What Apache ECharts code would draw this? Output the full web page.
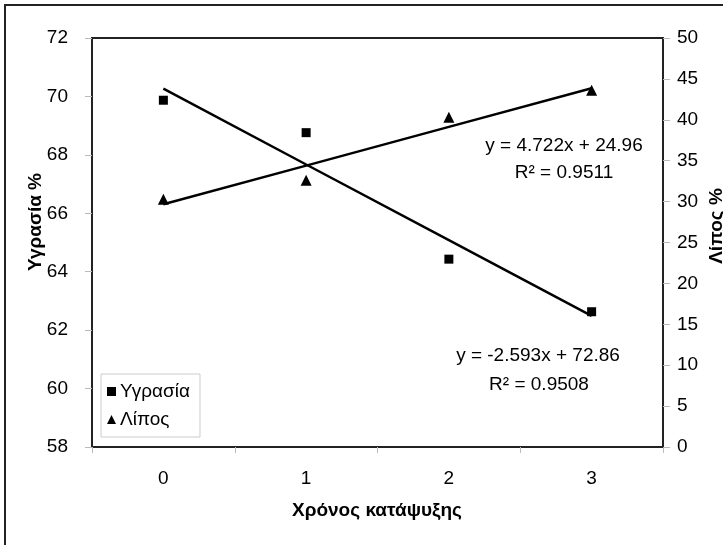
<!DOCTYPE html>
<html>
<head>
<meta charset="utf-8">
<script src="https://cdn.jsdelivr.net/npm/echarts@6/dist/echarts.min.js"></script>
<style>
html,body{margin:0;padding:0;background:#fff;}
#c{width:723px;height:545px;}
</style>
</head>
<body>
<div id="c"></div>
<script>
const categories = ['0', '1', '2', '3'];
const moisture = [69.87, 68.76, 64.43, 62.63];
const fat = [30.3, 32.6, 40.3, 43.6];
const moistureTrend = [70.27, 67.67, 65.08, 62.49];
const fatTrend = [29.68, 34.40, 39.13, 43.85];
const moistureEq = 'y = -2.593x + 72.86';
const moistureR2 = 'R² = 0.9508';
const fatEq = 'y = 4.722x + 24.96';
const fatR2 = 'R² = 0.9511';

const FONT = '"Liberation Sans", Arial, sans-serif';
const FS = 19;
const chart = echarts.init(document.getElementById('c'), null, {renderer: 'canvas'});
const txt = (x, y, text, opts) => Object.assign({
  type: 'text', x: x, y: y,
  style: Object.assign({text: text, fontFamily: FONT, fontSize: FS, fill: '#000', align: 'center', verticalAlign: 'middle'}, opts || {})
});
chart.setOption({
  animation: false,
  backgroundColor: '#fff',
  grid: {left: 92, top: 38, right: 60, bottom: 98, show: true, borderColor: '#222', borderWidth: 2, backgroundColor: 'transparent'},
  xAxis: {
    type: 'category', data: categories, boundaryGap: true,
    axisLine: {lineStyle: {color: '#222', width: 2}},
    axisTick: {show: true, length: 6, interval: 0, lineStyle: {color: '#bbb'}},
    axisLabel: {color: '#000', fontFamily: FONT, fontSize: FS, margin: 22},
    splitLine: {show: false}
  },
  yAxis: [
    {type: 'value', min: 58, max: 72, interval: 2, position: 'left',
     axisLine: {show: true, lineStyle: {color: '#222', width: 2}},
     axisTick: {show: true, length: 7, lineStyle: {color: '#bbb'}},
     axisLabel: {color: '#000', fontFamily: FONT, fontSize: FS, margin: 24},
     splitLine: {show: false}},
    {type: 'value', min: 0, max: 50, interval: 5, position: 'right',
     axisLine: {show: true, lineStyle: {color: '#222', width: 2}},
     axisTick: {show: true, length: 7, lineStyle: {color: '#bbb'}},
     axisLabel: {color: '#000', fontFamily: FONT, fontSize: FS, margin: 14},
     splitLine: {show: false}}
  ],
  legend: {
    orient: 'vertical', left: 101, top: 374,
    data: [{name: 'Υγρασία', icon: 'rect'}, {name: 'Λίπος', icon: 'triangle'}],
    itemWidth: 9, itemHeight: 9, itemGap: 9,
    padding: [8, 10, 8, 6],
    borderColor: '#ccc', borderWidth: 1, backgroundColor: '#fff',
    textStyle: {fontFamily: FONT, fontSize: FS, color: '#000', padding: [0, 0, 0, -1]}
  },
  series: [
    {name: 'moistureTrend', type: 'line', data: moistureTrend, yAxisIndex: 0, symbol: 'none',
     lineStyle: {color: '#000', width: 2.5}, z: 2, silent: true},
    {name: 'fatTrend', type: 'line', data: fatTrend, yAxisIndex: 1, symbol: 'none',
     lineStyle: {color: '#000', width: 2.5}, z: 2, silent: true},
    {name: 'Υγρασία', type: 'scatter', data: moisture, yAxisIndex: 0, symbol: 'rect', symbolSize: 9,
     itemStyle: {color: '#000', opacity: 1}, z: 3},
    {name: 'Λίπος', type: 'scatter', data: fat, yAxisIndex: 1, symbol: 'triangle', symbolSize: 11,
     itemStyle: {color: '#000', opacity: 1}, z: 3}
  ],
  graphic: [
    {type: 'rect', shape: {x: 5, y: 5, width: 740, height: 560}, style: {fill: 'none', stroke: '#222', lineWidth: 2}, silent: true},
    txt(36, 222, 'Υγρασία %', {fontWeight: 'bold'}),
    txt(717, 226, 'Λίπος %', {fontWeight: 'bold'}),
    txt(377, 511, 'Χρόνος κατάψυξης', {fontWeight: 'bold'}),
    txt(564, 146, fatEq),
    txt(564, 173, fatR2),
    txt(538, 356, moistureEq),
    txt(539, 385, moistureR2)
  ].map((g, i) => {
    if (i === 1 || i === 2) { g.rotation = Math.PI / 2; }
    return g;
  })
});
</script>
</body>
</html>
